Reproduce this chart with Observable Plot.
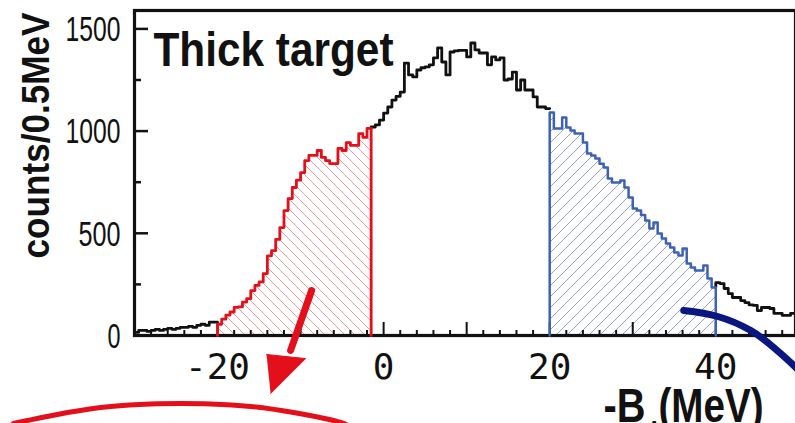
<!DOCTYPE html>
<html><head><meta charset="utf-8">
<script src="https://cdn.jsdelivr.net/npm/d3@7"></script>
<script src="https://cdn.jsdelivr.net/npm/@observablehq/plot@0.6"></script>
<style>
html,body{margin:0;padding:0;background:#fff;overflow:hidden}
#chart svg{display:block}
</style>
</head><body>
<svg width="0" height="0" style="position:absolute"><defs>
<pattern id="hatchRed" patternUnits="userSpaceOnUse" width="10" height="10"><path d="M0,0L10,10M-1,9L1,11M9,-1L11,1" stroke="#e59a9a" stroke-width="1"/></pattern>
<pattern id="hatchBlue" patternUnits="userSpaceOnUse" width="11" height="11"><path d="M0,11L11,0M-1,1L1,-1M10,12L12,10" stroke="#97a2c2" stroke-width="1"/></pattern>
</defs></svg>
<div id="chart"></div>
<script>
// ---- data (counts per 0.5 MeV bin) ----
const binWidth = 0.5;
const leftStart = -30;
const countsLeft = [15, 25, 25, 20, 25, 30, 25, 30, 35, 30, 35, 40, 40, 45, 40, 50, 55, 50, 65, 65];
const redStart = -20;
const countsRed = [55, 80, 100, 115, 138, 140, 163, 180, 220, 245, 262, 303, 390, 415, 470, 528, 611, 670, 724, 760, 797, 856, 881, 881, 905, 871, 856, 841, 841, 915, 905, 944, 930, 930, 988, 969, 1013];
const midStart = -1.5;
const countsMid = [1020, 1030, 1054, 1088, 1118, 1152, 1170, 1191, 1333, 1275, 1265, 1299, 1310, 1314, 1324, 1358, 1407, 1338, 1275, 1387, 1392, 1395, 1395, 1363, 1431, 1397, 1382, 1382, 1324, 1363, 1348, 1358, 1250, 1255, 1289, 1201, 1250, 1201, 1201, 1167, 1118, 1118, 1110];
const blueStart = 20;
const countsBlue = [1091, 1013, 1013, 1066, 1018, 1003, 988, 988, 944, 890, 881, 866, 840, 822, 768, 749, 749, 758, 724, 675, 621, 611, 590, 563, 524, 553, 499, 474, 450, 430, 406, 391, 426, 352, 333, 318, 318, 342, 279, 235];
const rightStart = 40;
const countsRight = [259, 254, 230, 205, 186, 186, 171, 161, 150, 147, 122, 137, 137, 132, 108, 108, 98, 98, 108, 108];

// ticks and labels
const xMajorTicks = [-30, -20, -10, 0, 10, 20, 30, 40];
const xMinorTicks = [-28, -26, -24, -22, -18, -16, -14, -12, -8, -6, -4, -2, 2, 4, 6, 8, 12, 14, 16, 18, 22, 24, 26, 28, 32, 34, 36, 38, 42, 44, 46, 48];
const xTickLabels = [-20, 0, 20, 40];
const yMajorTicks = [0, 500, 1000, 1500];
const yMinorTicks = [250, 750, 1250];
const yTickLabels = [0, 500, 1000, 1500];

// annotations (in data units)
const arrowShaft = [{x: -8.67, y: 220}, {x: -11.2, y: -73}];
const arrowHead = [{x: -14.10, y: -93}, {x: -9.40, y: -113}, {x: -13.61, y: -284}];
const ellipseArc = [
  {x: -44.58, y: -430}, {x: -42.89, y: -416}, {x: -38.07, y: -377}, {x: -32.89, y: -347},
  {x: -28.07, y: -335}, {x: -24.46, y: -333}, {x: -20.84, y: -335}, {x: -16.02, y: -347},
  {x: -10.84, y: -377}, {x: -6.02, y: -416}, {x: -4.34, y: -440}
];
const navyArc = [{x: 36.14, y: 122}, {x: 40.24, y: 93}, {x: 44.22, y: 24}, {x: 46.99, y: -59}, {x: 49.64, y: -157}, {x: 52.05, y: -269}];

// ---- build step series ----
function bins(start, counts) {
  const pts = counts.map((c, i) => ({x: start + i * binWidth, y: c}));
  pts.push({x: start + counts.length * binWidth, y: counts[counts.length - 1]});
  return pts;
}
function closed(start, counts) {
  const b = bins(start, counts);
  return [{x: start, y: 0}, ...b, {x: b[b.length - 1].x, y: 0}];
}
const leftPts = bins(leftStart, countsLeft);
const midPts = [{x: midStart, y: countsRed[countsRed.length - 1]}, ...bins(midStart, countsMid)];
const rightPts = [{x: rightStart, y: countsBlue[countsBlue.length - 1]}, ...bins(rightStart, countsRight)];
const redPts = closed(redStart, countsRed);
const bluePts = closed(blueStart, countsBlue);

const sans = "'Liberation Sans',Arial,sans-serif";
const mono = "'DejaVu Sans Mono','Liberation Mono',monospace";
const RED = "#e3101c", BLUE = "#3d62b3", BLACK = "#111", NAVY = "#0b1780";

const chart = Plot.plot({
  width: 795, height: 423,
  marginLeft: 134, marginRight: 0, marginTop: 10, marginBottom: 88,
  x: {domain: [-30, 49.6], axis: null},
  y: {domain: [0, 1590], axis: null},
  style: {background: "white", overflow: "visible"},
  marks: [
    Plot.areaY(redPts, {x: "x", y: "y", curve: "step-after", fill: "url(#hatchRed)"}),
    Plot.areaY(bluePts, {x: "x", y: "y", curve: "step-after", fill: "url(#hatchBlue)"}),
    // ticks (inward)
    Plot.ruleX(xMinorTicks, {x: d => d, stroke: BLACK, strokeWidth: 2, insetTop: 320}),
    Plot.ruleX(xMajorTicks, {x: d => d, stroke: BLACK, strokeWidth: 2, insetTop: 312}),
    Plot.ruleY(yMinorTicks, {y: d => d, stroke: BLACK, strokeWidth: 2.5, insetRight: 654}),
    Plot.ruleY(yMajorTicks, {y: d => d, stroke: BLACK, strokeWidth: 2.5, insetRight: 647}),
    Plot.frame({stroke: BLACK, strokeWidth: 3.2}),
    // histogram
    Plot.line(leftPts, {x: "x", y: "y", curve: "step-after", stroke: BLACK, strokeWidth: 2.8}),
    Plot.line(midPts, {x: "x", y: "y", curve: "step-after", stroke: BLACK, strokeWidth: 2.8}),
    Plot.line(rightPts, {x: "x", y: "y", curve: "step-after", stroke: BLACK, strokeWidth: 2.8}),
    Plot.line(redPts, {x: "x", y: "y", curve: "step-after", stroke: RED, strokeWidth: 2.8}),
    Plot.line(bluePts, {x: "x", y: "y", curve: "step-after", stroke: BLUE, strokeWidth: 2.5}),
    // annotations
    Plot.line(navyArc, {x: "x", y: "y", curve: "natural", stroke: NAVY, strokeWidth: 7}),
    Plot.line(arrowShaft, {x: "x", y: "y", stroke: RED, strokeWidth: 7}),
    Plot.line(arrowHead, {x: "x", y: "y", fill: RED, stroke: RED, strokeWidth: 1, strokeLinejoin: "miter"}),
    Plot.line(ellipseArc, {x: "x", y: "y", curve: "natural", stroke: RED, strokeWidth: 5}),
    // tick labels
    Plot.text(yTickLabels, {y: d => d, text: d => String(d), frameAnchor: "left", textAnchor: "end", dx: -14, dy: 1,
      fontSize: 35, fontFamily: sans, fill: BLACK}),
    Plot.text(xTickLabels, {x: d => d, text: d => String(d), frameAnchor: "bottom", lineAnchor: "bottom", dy: 43,
      fontSize: 36, fontFamily: mono, fill: BLACK}),
    // titles
    Plot.text(["Thick target"], {frameAnchor: "top-left", textAnchor: "start", lineAnchor: "bottom", dx: 19, dy: 55,
      fontSize: 49, fontWeight: "bold", fontFamily: sans, fill: BLACK}),
    Plot.text(["counts/0.5MeV"], {frameAnchor: "top-left", textAnchor: "middle", lineAnchor: "middle", rotate: -90, dx: -98, dy: 125,
      fontSize: 38, fontWeight: "bold", fontFamily: sans, fill: BLACK}),
    Plot.text(["-B"], {frameAnchor: "bottom-right", textAnchor: "start", lineAnchor: "bottom", dx: -192, dy: 86,
      fontSize: 48, fontWeight: "bold", fontFamily: sans, fill: BLACK}),
    Plot.text(["Λ"], {frameAnchor: "bottom-right", textAnchor: "start", lineAnchor: "bottom", dx: -148, dy: 99,
      fontSize: 20, fontWeight: "bold", fontFamily: sans, fill: BLACK}),
    Plot.text(["(MeV)"], {frameAnchor: "bottom-right", textAnchor: "start", lineAnchor: "bottom", dx: -137, dy: 86,
      fontSize: 48, fontWeight: "bold", fontFamily: sans, fill: BLACK})
  ]
});
document.getElementById("chart").appendChild(chart);

// fit text widths to the figure (condensed lettering)
const widths = {"Thick target": 240, "counts/0.5MeV": 246, "-B": 42, "(MeV)": 105, "1500": 55, "1000": 55, "500": 42};
chart.querySelectorAll("text").forEach(t => {
  const s = t.textContent.trim();
  const fam = (t.closest("g[font-family]") || t).getAttribute("font-family") || "";
  let w = widths[s];
  if (s === "0" && !fam.includes("Mono")) w = 13;
  if (w) {
    t.setAttribute("textLength", w);
    t.setAttribute("lengthAdjust", "spacingAndGlyphs");
  }
});
</script>
</body></html>
